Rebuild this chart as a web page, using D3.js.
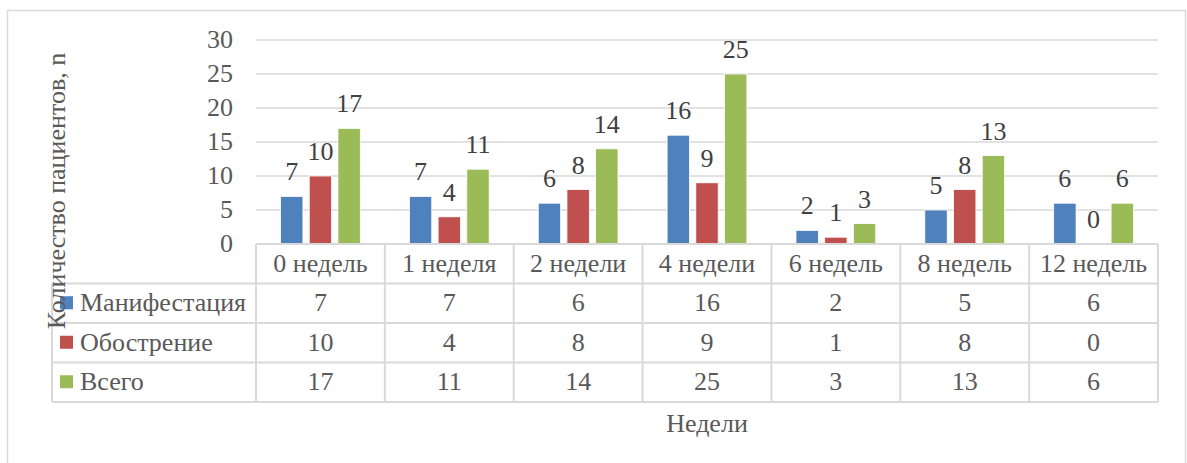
<!DOCTYPE html>
<html>
<head>
<meta charset="utf-8">
<script src="https://cdn.jsdelivr.net/npm/d3@7"></script>
</head>
<body style="margin:0; font-family: 'Liberation Serif';">
<svg id="s" width="1187" height="463" style="font-family: 'Liberation Serif';"></svg>
<script>
const categories = ["0 недель", "1 неделя", "2 недели", "4 недели", "6 недель", "8 недель", "12 недель"];
const seriesNames = ["Манифестация", "Обострение", "Всего"];
const manifestation = [7, 7, 6, 16, 2, 5, 6];
const exacerbation = [10, 4, 8, 9, 1, 8, 0];
const total = [17, 11, 14, 25, 3, 13, 6];
const colors = ["#4F81BD", "#C0504D", "#9BBB59"];
const yTicks = [0, 5, 10, 15, 20, 25, 30];
const yTitle = "Количество пациентов, n";
const xTitle = "Недели";

const seriesValues = [manifestation, exacerbation, total];

const svg = d3.select("#s");
const fs = 26;
const textColor = "#595959";
const lineColor = "#D9D9D9";

function txt(sel) {
  return sel.style("font-family", '"Liberation Serif"').attr("font-size", fs);
}

svg.append("rect").attr("x", 7.5).attr("y", 10.5).attr("width", 1178).attr("height", 480)
  .attr("fill", "#fff").attr("stroke", lineColor).attr("stroke-width", 1.5);

const plotLeft = 256, plotRight = 1158, plotTop = 40, plotBottom = 244;
const x = d3.scaleBand().domain(categories).range([plotLeft, plotRight]).padding(0);
const xs = d3.scaleBand().domain(seriesNames).range([0, x.bandwidth()])
  .paddingInner(0.22).paddingOuter(0.855);
const y = d3.scaleLinear().domain([0, 30]).range([plotBottom, plotTop]);

svg.append("g").selectAll("line").data(yTicks.filter(t => t > 0)).join("line")
  .attr("x1", plotLeft).attr("x2", plotRight)
  .attr("y1", d => y(d)).attr("y2", d => y(d))
  .attr("stroke", lineColor).attr("stroke-width", 1.5);

txt(svg.append("g").selectAll("text").data(yTicks).join("text"))
  .attr("x", 233).attr("y", d => y(d) + 8)
  .attr("text-anchor", "end")
  .attr("fill", textColor)
  .text(d => d);

const groups = svg.append("g").selectAll("g").data(categories).join("g")
  .attr("transform", d => `translate(${x(d)},0)`);

groups.selectAll("rect").data((c, i) => seriesNames.map((s, j) => ({ s, j, v: seriesValues[j][i] })))
  .join("rect")
  .attr("x", d => xs(d.s))
  .attr("width", xs.bandwidth())
  .attr("y", d => y(d.v))
  .attr("height", d => y(0) - y(d.v))
  .attr("fill", d => colors[d.j])
  .attr("stroke", "#ffffff").attr("stroke-width", 0.8);

txt(groups.selectAll("text").data((c, i) => seriesNames.map((s, j) => ({ s, j, v: seriesValues[j][i] })))
  .join("text"))
  .attr("x", d => xs(d.s) + xs.bandwidth() / 2)
  .attr("y", d => y(d.v) - 16)
  .attr("text-anchor", "middle")
  .attr("fill", "#404040")
  .text(d => d.v);

const tableLeft = 52;
const rowH = 39.5;
const tableBottom = plotBottom + 4 * rowH;
const tg = svg.append("g");

tg.append("line").attr("x1", plotLeft).attr("x2", plotRight).attr("y1", plotBottom).attr("y2", plotBottom)
  .attr("stroke", lineColor).attr("stroke-width", 2);
[1, 2, 3, 4].forEach(k => {
  tg.append("line").attr("x1", tableLeft).attr("x2", plotRight)
    .attr("y1", plotBottom + k * rowH).attr("y2", plotBottom + k * rowH)
    .attr("stroke", lineColor).attr("stroke-width", 2);
});
tg.append("line").attr("x1", tableLeft).attr("x2", tableLeft)
  .attr("y1", plotBottom + rowH).attr("y2", tableBottom)
  .attr("stroke", lineColor).attr("stroke-width", 2);
const boundaries = categories.map(c => x(c)).concat([plotRight]);
tg.selectAll("line.v").data(boundaries).join("line").attr("class", "v")
  .attr("x1", d => d).attr("x2", d => d)
  .attr("y1", plotBottom).attr("y2", tableBottom)
  .attr("stroke", lineColor).attr("stroke-width", 2);

txt(tg.selectAll("text.h").data(categories).join("text").attr("class", "h"))
  .attr("x", d => x(d) + x.bandwidth() / 2)
  .attr("y", plotBottom + rowH / 2 + 8)
  .attr("text-anchor", "middle").attr("fill", textColor)
  .text(d => d);

seriesNames.forEach((s, j) => {
  const cy = plotBottom + (j + 1) * rowH + rowH / 2;
  tg.append("rect").attr("x", 60).attr("y", cy - 7).attr("width", 13).attr("height", 13)
    .attr("fill", colors[j]);
  txt(tg.append("text")).attr("x", 80).attr("y", cy + 8)
    .attr("fill", textColor).text(s);
  txt(tg.selectAll("text.r" + j).data(categories).join("text").attr("class", "r" + j))
    .attr("x", d => x(d) + x.bandwidth() / 2)
    .attr("y", cy + 8)
    .attr("text-anchor", "middle").attr("fill", textColor)
    .text((d, i) => seriesValues[j][i]);
});

txt(svg.append("text")).attr("transform", "translate(65,191) rotate(-90)")
  .attr("text-anchor", "middle")
  .attr("fill", textColor).text(yTitle);

txt(svg.append("text")).attr("x", 707).attr("y", 432)
  .attr("text-anchor", "middle")
  .attr("fill", textColor).text(xTitle);
</script>
</body>
</html>
